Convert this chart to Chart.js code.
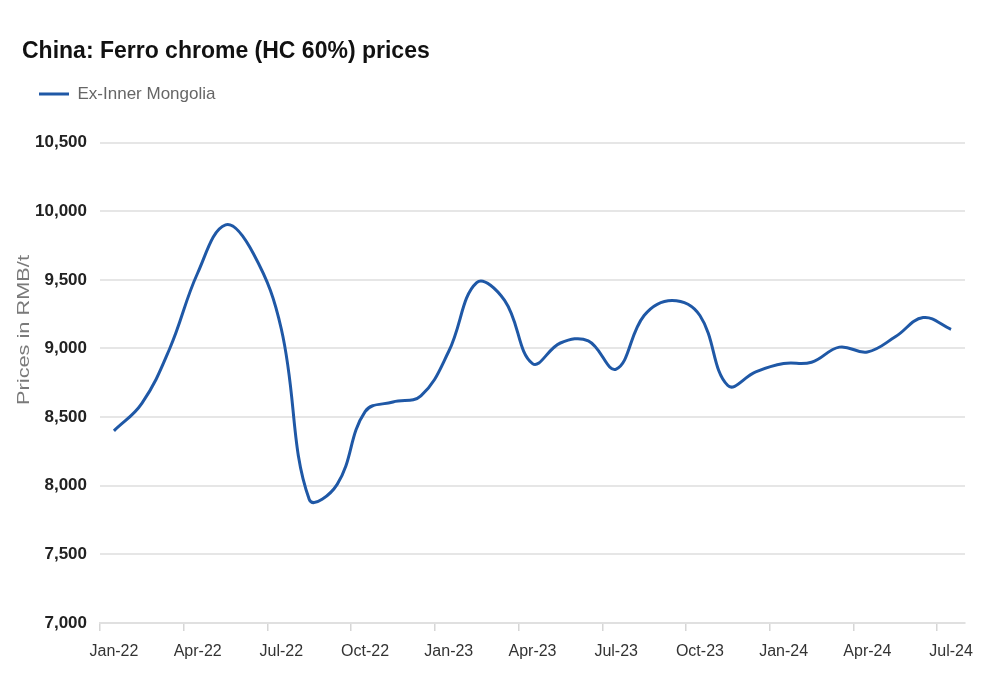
<!DOCTYPE html>
<html>
<head>
<meta charset="utf-8">
<script src="https://cdn.jsdelivr.net/npm/chart.js@4.4.1/dist/chart.umd.min.js"></script>
<style>
  body { margin: 0; background: #fff; }
  canvas { display: block; }
</style>
</head>
<body>
<canvas id="chart" width="999" height="690"></canvas>
<script>
// monthly categories, Jan-22 .. Jul-24
const months = [
    'Jan-22', 'Feb-22', 'Mar-22', 'Apr-22', 'May-22', 'Jun-22', 'Jul-22', 'Aug-22', 'Sep-22', 'Oct-22', 'Nov-22', 'Dec-22',
    'Jan-23', 'Feb-23', 'Mar-23', 'Apr-23', 'May-23', 'Jun-23', 'Jul-23', 'Aug-23', 'Sep-23', 'Oct-23', 'Nov-23', 'Dec-23',
    'Jan-24', 'Feb-24', 'Mar-24', 'Apr-24', 'May-24', 'Jun-24', 'Jul-24'
];

// Ex-Inner Mongolia, RMB/t
const prices = [
    8400, 8600, 9000, 9550, 9900, 9690, 9140, 7900, 8010, 8540, 8610, 8655,
    8980, 9480, 9350, 8890, 9040, 9055, 8850, 9240, 9350, 9240, 8730, 8830,
    8890, 8900, 9010, 8975, 9085, 9225, 9140
];

// labels shown on the x axis
const tickMonths = ['Jan-22', 'Apr-22', 'Jul-22', 'Oct-22', 'Jan-23', 'Apr-23', 'Jul-23', 'Oct-23', 'Jan-24', 'Apr-24', 'Jul-24'];

const yMin = 7000;
const yMax = 10500;
const yStep = 500;

const family = '"Liberation Sans", Arial, sans-serif';

// axis title drawn by hand, it sits above the middle of the axis in the original
const yTitle = {
    id: 'yTitle',
    afterDraw(chart) {
        const ctx = chart.ctx;
        ctx.save();
        ctx.translate(25, 330);
        ctx.rotate(-Math.PI / 2);
        ctx.scale(1.36, 1);
        ctx.font = '16px ' + family;
        ctx.fillStyle = '#7a7a7a';
        ctx.textAlign = 'center';
        ctx.textBaseline = 'middle';
        ctx.fillText('Prices in RMB/t', 0, 0);
        ctx.restore();
    }
};

// extra room under the legend
const legendGap = {
    id: 'legendGap',
    beforeInit(chart) {
        const fit = chart.legend.fit;
        chart.legend.fit = function () {
            fit.call(this);
            this.height += 30;
        };
    }
};

const ctx = document.getElementById('chart').getContext('2d');
new Chart(ctx, {
    type: 'line',
    data: {
        labels: months,
        datasets: [{
            label: 'Ex-Inner Mongolia',
            data: prices,
            borderColor: '#1f58a6',
            backgroundColor: '#1f58a6',
            borderWidth: 3,
            pointRadius: 0,
            tension: 0.4,
            fill: false
        }]
    },
    options: {
        responsive: false,
        animation: false,
        layout: { padding: { left: 22, right: 34, top: 38, bottom: 0 } },
        plugins: {
            title: {
                display: true,
                text: 'China: Ferro chrome (HC 60%) prices',
                align: 'start',
                color: '#111',
                font: { family: family, size: 23, weight: 'bold' },
                padding: { top: 0, bottom: 3 }
            },
            legend: {
                display: true,
                align: 'start',
                labels: {
                    usePointStyle: true,
                    pointStyle: 'line',
                    pointStyleWidth: 30,
                    padding: 17,
                    color: '#666',
                    font: { family: family, size: 17 }
                }
            },
            tooltip: { enabled: false }
        },
        scales: {
            x: {
                type: 'category',
                offset: true,
                grid: {
                    offset: true,
                    drawOnChartArea: false,
                    drawTicks: true,
                    tickLength: 8,
                    lineWidth: 1.5,
                    color: c => (c.index % 3 === 0 ? '#d6d6d6' : 'rgba(0,0,0,0)')
                },
                border: { display: true, color: '#e0e0e0', width: 2 },
                ticks: {
                    autoSkip: false,
                    maxRotation: 0,
                    padding: 11,
                    color: '#333',
                    font: { family: family, size: 16 },
                    callback: function (v, i) {
                        return tickMonths.includes(months[i]) ? months[i] : '';
                    }
                },
                afterFit(scale) { scale.height = 67; }
            },
            y: {
                min: yMin,
                max: yMax,
                ticks: {
                    stepSize: yStep,
                    padding: 13,
                    color: '#222',
                    font: { family: family, size: 17, weight: 'bold' },
                    callback: v => v.toLocaleString('en-US')
                },
                grid: { color: '#e6e6e6', lineWidth: 2, drawTicks: false },
                border: { display: false },
                afterFit(scale) { scale.width = 78; }
            }
        }
    },
    plugins: [yTitle, legendGap]
});
</script>
</body>
</html>
